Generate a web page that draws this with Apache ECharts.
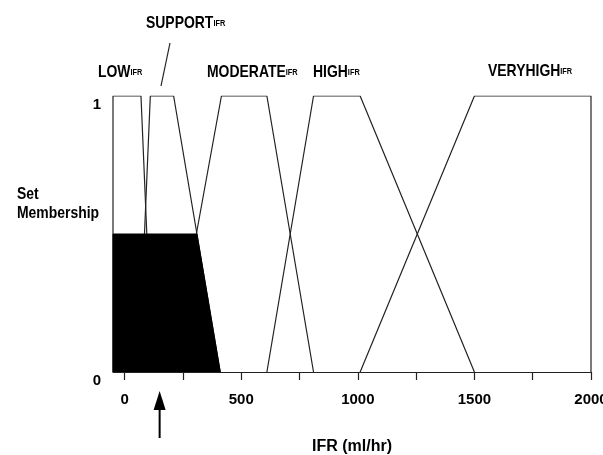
<!DOCTYPE html>
<html>
<head>
<meta charset="utf-8">
<script src="https://cdn.jsdelivr.net/npm/echarts@6/dist/echarts.min.js"></script>
<style>
html,body{margin:0;padding:0;background:#fff;}
#chart{width:603px;height:455px;}
</style>
</head>
<body>
<div id="chart"></div>
<script>
// ---- Data (IFR in ml/hr, membership 0..1) ----
const lowSet      = [[-50,0],[-50,1],[70,1],[120,0]];
const supportSet  = [[60,0],[110,1],[210,1],[410,0]];
const moderateSet = [[200,0],[415,1],[610,1],[810,0]];
const highSet     = [[610,0],[810,1],[1010,1],[1500,0]];
const veryHighSet = [[1010,0],[1500,1],[2000,1],[2000,0]];
const clippedSupport = [[-50,0],[-50,0.5],[310,0.5],[410,0]];
const inputIFR = 150;
const xTickValues  = [0,250,500,750,1000,1250,1500,1750,2000];
const xLabelValues = [0,500,1000,1500,2000];
const yLabelValues = [0,1];
const setNames = ['LOW','SUPPORT','MODERATE','HIGH','VERYHIGH'];

const FONT = '"Liberation Sans",Arial,sans-serif';
const LINE = '#222';
const SX = 0.82; // condensed look

const chart = echarts.init(document.getElementById('chart'), null, {renderer:'canvas'});

function setSeries(data){
  return {type:'line', data:data, symbol:'none', silent:true, animation:false,
          lineStyle:{color:LINE, width:1.2}, z:3};
}
function setLabel(name, x, y){
  return {type:'text', x:x, y:y, scaleX:SX, silent:true,
    style:{text:'{a|'+name+'}{b|IFR}', align:'left', verticalAlign:'middle',
      rich:{a:{fontFamily:FONT, fontWeight:'bold', fontSize:17, fill:'#000'},
            b:{fontFamily:FONT, fontWeight:'bold', fontSize:9, fill:'#000', padding:[0,0,-2,0]}}}};
}

chart.setOption({
  backgroundColor:'#fff',
  animation:false,
  grid:{left:113, right:12, top:96, bottom:83, containLabel:false, outerBoundsMode:'none'},
  xAxis:{type:'value', min:-50, max:2000,
    name:'IFR (ml/hr)', nameLocation:'middle', nameGap:67,
    nameTextStyle:{fontFamily:FONT, fontWeight:'bold', fontSize:16, color:'#000'},
    axisLine:{show:true, lineStyle:{color:LINE, width:1.2}},
    axisTick:{show:true, length:8, customValues:xTickValues, lineStyle:{color:LINE, width:1.2}},
    axisLabel:{customValues:xLabelValues, margin:20, formatter:function(v){return String(v);},
      fontFamily:FONT, fontWeight:'bold', fontSize:15, color:'#000'},
    splitLine:{show:false}},
  yAxis:{type:'value', min:0, max:1,
    axisLine:{show:false}, axisTick:{show:false}, splitLine:{show:false},
    axisLabel:{customValues:yLabelValues, margin:12, verticalAlign:'top', lineHeight:17,
      formatter:function(v){return String(v);},
      fontFamily:FONT, fontWeight:'bold', fontSize:15, color:'#000'}},
  series:[
    {type:'line', data:clippedSupport, symbol:'none', silent:true, animation:false,
     lineStyle:{color:'#000', width:1}, areaStyle:{color:'#000', opacity:1, origin:'start'}, z:4},
    setSeries(lowSet),
    setSeries(supportSet),
    setSeries(moderateSet),
    setSeries(highSet),
    setSeries(veryHighSet)
  ]
});

const ax = chart.convertToPixel({xAxisIndex:0}, inputIFR);
chart.setOption({
  graphic:[
    setLabel(setNames[0], 98, 72),
    setLabel(setNames[1], 146, 23),
    setLabel(setNames[2], 207, 72),
    setLabel(setNames[3], 313, 72),
    setLabel(setNames[4], 488, 71),
    {type:'line', silent:true, shape:{x1:170, y1:43, x2:161, y2:86}, style:{stroke:LINE, lineWidth:1.2}},
    {type:'text', x:17, y:204, scaleX:SX, silent:true,
      style:{text:'Set\nMembership', align:'left', verticalAlign:'middle', lineHeight:19,
        fontFamily:FONT, fontWeight:'bold', fontSize:17, fill:'#000'}},
    {type:'line', silent:true, shape:{x1:ax, y1:408, x2:ax, y2:438}, style:{stroke:'#000', lineWidth:2}},
    {type:'polygon', silent:true, shape:{points:[[ax,391],[ax-6,410],[ax+6,410]]}, style:{fill:'#000'}}
  ]
});
</script>
</body>
</html>
